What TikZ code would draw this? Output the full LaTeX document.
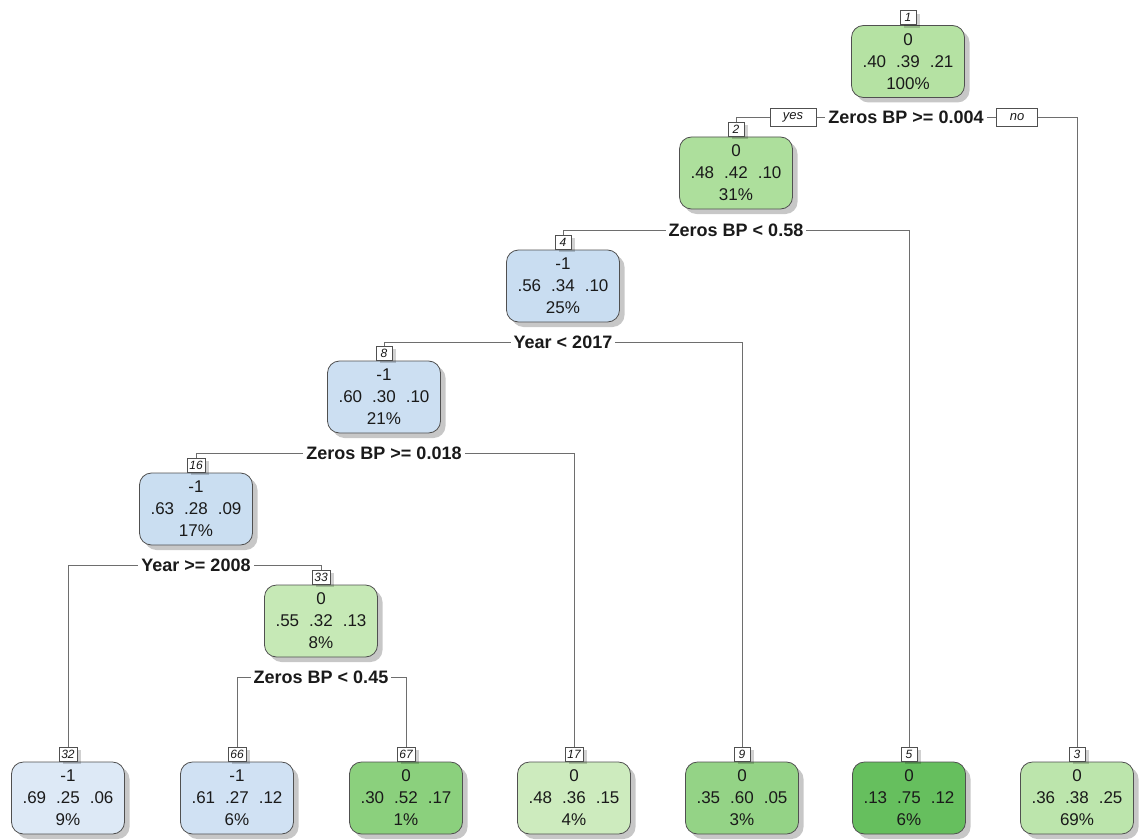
\documentclass[tikz,border=0pt]{standalone}
\usepackage{fontspec}
\setmainfont{Liberation Sans}
\usetikzlibrary{shadows}
\definecolor{g1}{HTML}{B5E2A3}
\definecolor{g2}{HTML}{ADDF9C}
\definecolor{g33}{HTML}{C6E9B6}
\definecolor{g17}{HTML}{CDEBBE}
\definecolor{g67}{HTML}{8BD07D}
\definecolor{g9}{HTML}{94D386}
\definecolor{g5}{HTML}{66BF5E}
\definecolor{g3}{HTML}{BCE5AC}
\definecolor{b4}{HTML}{C9DDF1}
\definecolor{b8}{HTML}{CCDFF2}
\definecolor{b16}{HTML}{CADEF1}
\definecolor{b32}{HTML}{DDE9F6}
\definecolor{b66}{HTML}{D0E1F3}
\definecolor{edgecol}{HTML}{6E6E6E}
\definecolor{bordercol}{HTML}{505050}
\definecolor{txt}{HTML}{1A1A1A}
\pgfdeclarelayer{bg}
\pgfsetlayers{bg,main}
\newcommand{\gp}{\hspace{10pt}}
\tikzset{
  nbox/.style={draw=bordercol, line width=0.8pt, rounded corners=12pt,
    minimum width=113pt, minimum height=72pt, inner sep=0pt, align=center,
    text=txt, font=\fontsize{17}{22}\selectfont,
    drop shadow={shadow xshift=5pt, shadow yshift=-5pt, fill=black, opacity=0.22}},
  lbl/.style={draw=bordercol, line width=0.6pt, fill=white, minimum width=16pt,
    minimum height=14pt, inner xsep=2.5pt, inner ysep=1pt, anchor=south,
    font=\fontsize{12}{12}\itshape\selectfont, text=txt,
    drop shadow={shadow xshift=4pt, shadow yshift=-3pt, fill=black, opacity=0.18}},
  split/.style={fill=white, inner xsep=3pt, inner ysep=1pt,
    font=\fontsize{18}{18}\bfseries\selectfont, text=txt},
  yn/.style={draw=bordercol, line width=0.6pt, fill=white, inner xsep=13pt,
    minimum height=18pt, inner ysep=1pt, font=\fontsize{13}{13}\itshape\selectfont, text=txt},
  edge/.style={draw=edgecol, line width=0.8pt}
}
\begin{document}
\begin{tikzpicture}[x=1pt,y=-1pt]
\useasboundingbox (0,0) rectangle (1148,840);
% internal nodes
\node[nbox, fill=g1] (n1) at (908,61.5) {0\\.40\gp.39\gp.21\\100\%};
\node[lbl] (l1) at (n1.north) {1};
\node[nbox, fill=g2] (n2) at (736,173) {0\\.48\gp.42\gp.10\\31\%};
\node[lbl] (l2) at (n2.north) {2};
\node[nbox, fill=b4] (n4) at (563,286) {-1\\.56\gp.34\gp.10\\25\%};
\node[lbl] (l4) at (n4.north) {4};
\node[nbox, fill=b8] (n8) at (384,397) {-1\\.60\gp.30\gp.10\\21\%};
\node[lbl] (l8) at (n8.north) {8};
\node[nbox, fill=b16] (n16) at (196,509) {-1\\.63\gp.28\gp.09\\17\%};
\node[lbl] (l16) at (n16.north) {16};
\node[nbox, fill=g33] (n33) at (321,621) {0\\.55\gp.32\gp.13\\8\%};
\node[lbl] (l33) at (n33.north) {33};
% leaves
\node[nbox, fill=b32] (n32) at (68,798) {-1\\.69\gp.25\gp.06\\9\%};
\node[lbl] (l32) at (n32.north) {32};
\node[nbox, fill=b66] (n66) at (237,798) {-1\\.61\gp.27\gp.12\\6\%};
\node[lbl] (l66) at (n66.north) {66};
\node[nbox, fill=g67] (n67) at (406,798) {0\\.30\gp.52\gp.17\\1\%};
\node[lbl] (l67) at (n67.north) {67};
\node[nbox, fill=g17] (n17) at (574,798) {0\\.48\gp.36\gp.15\\4\%};
\node[lbl] (l17) at (n17.north) {17};
\node[nbox, fill=g9] (n9) at (742,798) {0\\.35\gp.60\gp.05\\3\%};
\node[lbl] (l9) at (n9.north) {9};
\node[nbox, fill=g5] (n5) at (909,798) {0\\.13\gp.75\gp.12\\6\%};
\node[lbl] (l5) at (n5.north) {5};
\node[nbox, fill=g3] (n3) at (1077,798) {0\\.36\gp.38\gp.25\\69\%};
\node[lbl] (l3) at (n3.north) {3};
% split labels
\node[split] (s1) at (906,117) {Zeros BP >= 0.004};
\node[yn] (yes) at (793,117) {yes};
\node[yn] (no) at (1017,117) {no};
\node[split] (s2) at (736,230) {Zeros BP < 0.58};
\node[split] (s4) at (563,342) {Year < 2017};
\node[split] (s8) at (384,453) {Zeros BP >= 0.018};
\node[split] (s16) at (196,565) {Year >= 2008};
\node[split] (s33) at (321,677) {Zeros BP < 0.45};
% connectors
\begin{pgfonlayer}{bg}
\fill[white] (0,0) rectangle (1148,840);
\draw[edge] (l2.north) -- (l2.north |- s1.center) -- (l3.north |- s1.center) -- (l3.north);
\draw[edge] (l4.north) -- (l4.north |- s2.center) -- (l5.north |- s2.center) -- (l5.north);
\draw[edge] (l8.north) -- (l8.north |- s4.center) -- (l9.north |- s4.center) -- (l9.north);
\draw[edge] (l16.north) -- (l16.north |- s8.center) -- (l17.north |- s8.center) -- (l17.north);
\draw[edge] (l32.north) -- (l32.north |- s16.center) -- (l33.north |- s16.center) -- (l33.north);
\draw[edge] (l66.north) -- (l66.north |- s33.center) -- (l67.north |- s33.center) -- (l67.north);
\end{pgfonlayer}
\end{tikzpicture}
\end{document}
